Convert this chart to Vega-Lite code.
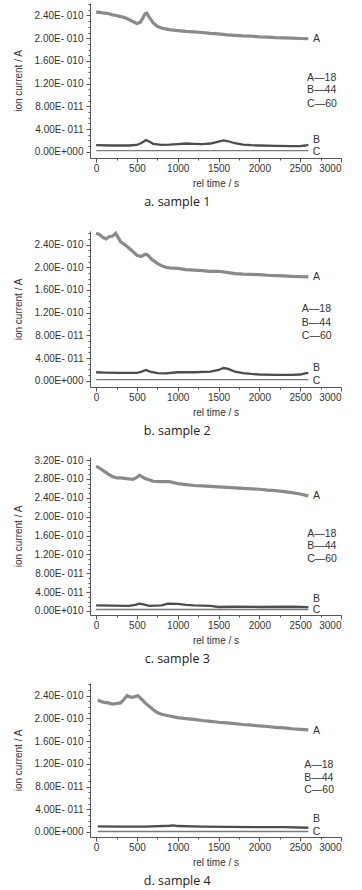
{
  "$schema": "https://vega.github.io/schema/vega-lite/v6.json",
  "padding": {"left": 13, "top": 3, "right": 5, "bottom": 2},
  "background": "white",
  "spacing": 17,
  "config": {
    "view": {"stroke": null},
    "axis": {
      "labelFont": "Liberation Sans", "labelFontSize": 10, "labelColor": "#333",
      "titleFont": "Liberation Sans", "titleFontSize": 10, "titleFontWeight": "normal", "titleColor": "#333",
      "domainColor": "#555", "tickColor": "#555", "grid": false, "labelPadding": 3
    },
    "axisY": {"minExtent": 56, "maxExtent": 56, "titlePadding": 11},
    "axisX": {"titlePadding": 5, "labelPadding": 1},
    "title": {"font": "Open Sans", "fontSize": 12.5, "fontWeight": "normal", "color": "#222", "orient": "bottom", "anchor": "middle", "frame": "bounds", "offset": 8},
    "text": {"font": "Liberation Sans", "fontSize": 10.5, "color": "#333"}
  },
  "datasets": {
    "p1": [
      {"t":0,"v":2.46e-10,"s":"A"},{"t":50,"v":2.455e-10,"s":"A"},{"t":100,"v":2.44e-10,"s":"A"},{"t":150,"v":2.435e-10,"s":"A"},{"t":200,"v":2.41e-10,"s":"A"},{"t":250,"v":2.40e-10,"s":"A"},{"t":300,"v":2.38e-10,"s":"A"},{"t":350,"v":2.365e-10,"s":"A"},{"t":400,"v":2.33e-10,"s":"A"},{"t":450,"v":2.295e-10,"s":"A"},{"t":500,"v":2.26e-10,"s":"A"},{"t":540,"v":2.28e-10,"s":"A"},{"t":570,"v":2.35e-10,"s":"A"},{"t":600,"v":2.43e-10,"s":"A"},{"t":620,"v":2.44e-10,"s":"A"},{"t":650,"v":2.37e-10,"s":"A"},{"t":700,"v":2.27e-10,"s":"A"},{"t":750,"v":2.21e-10,"s":"A"},{"t":800,"v":2.18e-10,"s":"A"},{"t":850,"v":2.165e-10,"s":"A"},{"t":900,"v":2.15e-10,"s":"A"},{"t":1000,"v":2.135e-10,"s":"A"},{"t":1100,"v":2.12e-10,"s":"A"},{"t":1200,"v":2.11e-10,"s":"A"},{"t":1300,"v":2.10e-10,"s":"A"},{"t":1400,"v":2.085e-10,"s":"A"},{"t":1500,"v":2.075e-10,"s":"A"},{"t":1600,"v":2.06e-10,"s":"A"},{"t":1700,"v":2.05e-10,"s":"A"},{"t":1800,"v":2.04e-10,"s":"A"},{"t":1900,"v":2.035e-10,"s":"A"},{"t":2000,"v":2.025e-10,"s":"A"},{"t":2100,"v":2.02e-10,"s":"A"},{"t":2200,"v":2.01e-10,"s":"A"},{"t":2300,"v":2.005e-10,"s":"A"},{"t":2400,"v":2.0e-10,"s":"A"},{"t":2500,"v":1.995e-10,"s":"A"},{"t":2600,"v":1.99e-10,"s":"A"},
      {"t":0,"v":1.15e-11,"s":"B"},{"t":200,"v":1.1e-11,"s":"B"},{"t":400,"v":1.1e-11,"s":"B"},{"t":500,"v":1.2e-11,"s":"B"},{"t":560,"v":1.6e-11,"s":"B"},{"t":610,"v":2.05e-11,"s":"B"},{"t":650,"v":1.8e-11,"s":"B"},{"t":700,"v":1.4e-11,"s":"B"},{"t":800,"v":1.2e-11,"s":"B"},{"t":900,"v":1.25e-11,"s":"B"},{"t":1000,"v":1.35e-11,"s":"B"},{"t":1100,"v":1.45e-11,"s":"B"},{"t":1200,"v":1.4e-11,"s":"B"},{"t":1300,"v":1.35e-11,"s":"B"},{"t":1400,"v":1.45e-11,"s":"B"},{"t":1500,"v":1.8e-11,"s":"B"},{"t":1560,"v":2.0e-11,"s":"B"},{"t":1620,"v":1.85e-11,"s":"B"},{"t":1700,"v":1.5e-11,"s":"B"},{"t":1800,"v":1.25e-11,"s":"B"},{"t":1900,"v":1.15e-11,"s":"B"},{"t":2000,"v":1.1e-11,"s":"B"},{"t":2200,"v":1.05e-11,"s":"B"},{"t":2400,"v":1.0e-11,"s":"B"},{"t":2500,"v":1.0e-11,"s":"B"},{"t":2560,"v":1.1e-11,"s":"B"},{"t":2600,"v":1.2e-11,"s":"B"},
      {"t":0,"v":2e-12,"s":"C"},{"t":2600,"v":2e-12,"s":"C"}
    ],
    "p2": [
      {"t":0,"v":2.60e-10,"s":"A"},{"t":40,"v":2.58e-10,"s":"A"},{"t":80,"v":2.53e-10,"s":"A"},{"t":120,"v":2.50e-10,"s":"A"},{"t":160,"v":2.54e-10,"s":"A"},{"t":200,"v":2.55e-10,"s":"A"},{"t":240,"v":2.60e-10,"s":"A"},{"t":260,"v":2.55e-10,"s":"A"},{"t":300,"v":2.45e-10,"s":"A"},{"t":350,"v":2.40e-10,"s":"A"},{"t":400,"v":2.34e-10,"s":"A"},{"t":450,"v":2.28e-10,"s":"A"},{"t":500,"v":2.21e-10,"s":"A"},{"t":550,"v":2.19e-10,"s":"A"},{"t":600,"v":2.23e-10,"s":"A"},{"t":630,"v":2.22e-10,"s":"A"},{"t":680,"v":2.14e-10,"s":"A"},{"t":750,"v":2.07e-10,"s":"A"},{"t":800,"v":2.03e-10,"s":"A"},{"t":850,"v":2.0e-10,"s":"A"},{"t":900,"v":1.99e-10,"s":"A"},{"t":1000,"v":1.98e-10,"s":"A"},{"t":1100,"v":1.96e-10,"s":"A"},{"t":1200,"v":1.95e-10,"s":"A"},{"t":1300,"v":1.94e-10,"s":"A"},{"t":1400,"v":1.93e-10,"s":"A"},{"t":1500,"v":1.93e-10,"s":"A"},{"t":1600,"v":1.91e-10,"s":"A"},{"t":1700,"v":1.89e-10,"s":"A"},{"t":1800,"v":1.88e-10,"s":"A"},{"t":1900,"v":1.875e-10,"s":"A"},{"t":2000,"v":1.87e-10,"s":"A"},{"t":2100,"v":1.86e-10,"s":"A"},{"t":2200,"v":1.855e-10,"s":"A"},{"t":2300,"v":1.85e-10,"s":"A"},{"t":2400,"v":1.84e-10,"s":"A"},{"t":2500,"v":1.835e-10,"s":"A"},{"t":2600,"v":1.83e-10,"s":"A"},
      {"t":0,"v":1.5e-11,"s":"B"},{"t":100,"v":1.45e-11,"s":"B"},{"t":300,"v":1.4e-11,"s":"B"},{"t":500,"v":1.4e-11,"s":"B"},{"t":560,"v":1.6e-11,"s":"B"},{"t":610,"v":1.9e-11,"s":"B"},{"t":660,"v":1.6e-11,"s":"B"},{"t":750,"v":1.35e-11,"s":"B"},{"t":850,"v":1.3e-11,"s":"B"},{"t":1000,"v":1.5e-11,"s":"B"},{"t":1200,"v":1.5e-11,"s":"B"},{"t":1400,"v":1.6e-11,"s":"B"},{"t":1500,"v":1.9e-11,"s":"B"},{"t":1560,"v":2.25e-11,"s":"B"},{"t":1620,"v":2.1e-11,"s":"B"},{"t":1700,"v":1.6e-11,"s":"B"},{"t":1800,"v":1.35e-11,"s":"B"},{"t":1900,"v":1.2e-11,"s":"B"},{"t":2000,"v":1.1e-11,"s":"B"},{"t":2200,"v":1.05e-11,"s":"B"},{"t":2400,"v":1.05e-11,"s":"B"},{"t":2500,"v":1.1e-11,"s":"B"},{"t":2560,"v":1.3e-11,"s":"B"},{"t":2600,"v":1.4e-11,"s":"B"},
      {"t":0,"v":2e-12,"s":"C"},{"t":2600,"v":2e-12,"s":"C"}
    ],
    "p3": [
      {"t":0,"v":3.07e-10,"s":"A"},{"t":50,"v":3.02e-10,"s":"A"},{"t":100,"v":2.96e-10,"s":"A"},{"t":150,"v":2.90e-10,"s":"A"},{"t":200,"v":2.85e-10,"s":"A"},{"t":250,"v":2.82e-10,"s":"A"},{"t":300,"v":2.82e-10,"s":"A"},{"t":400,"v":2.80e-10,"s":"A"},{"t":450,"v":2.79e-10,"s":"A"},{"t":500,"v":2.83e-10,"s":"A"},{"t":530,"v":2.88e-10,"s":"A"},{"t":560,"v":2.85e-10,"s":"A"},{"t":600,"v":2.81e-10,"s":"A"},{"t":700,"v":2.75e-10,"s":"A"},{"t":800,"v":2.74e-10,"s":"A"},{"t":900,"v":2.74e-10,"s":"A"},{"t":1000,"v":2.70e-10,"s":"A"},{"t":1100,"v":2.68e-10,"s":"A"},{"t":1200,"v":2.66e-10,"s":"A"},{"t":1300,"v":2.65e-10,"s":"A"},{"t":1400,"v":2.64e-10,"s":"A"},{"t":1500,"v":2.63e-10,"s":"A"},{"t":1600,"v":2.62e-10,"s":"A"},{"t":1700,"v":2.61e-10,"s":"A"},{"t":1800,"v":2.60e-10,"s":"A"},{"t":1900,"v":2.59e-10,"s":"A"},{"t":2000,"v":2.58e-10,"s":"A"},{"t":2100,"v":2.56e-10,"s":"A"},{"t":2200,"v":2.55e-10,"s":"A"},{"t":2300,"v":2.53e-10,"s":"A"},{"t":2400,"v":2.51e-10,"s":"A"},{"t":2500,"v":2.48e-10,"s":"A"},{"t":2600,"v":2.44e-10,"s":"A"},
      {"t":0,"v":1.2e-11,"s":"B"},{"t":200,"v":1.15e-11,"s":"B"},{"t":400,"v":1.1e-11,"s":"B"},{"t":480,"v":1.3e-11,"s":"B"},{"t":530,"v":1.55e-11,"s":"B"},{"t":580,"v":1.4e-11,"s":"B"},{"t":650,"v":1.1e-11,"s":"B"},{"t":800,"v":1.2e-11,"s":"B"},{"t":880,"v":1.55e-11,"s":"B"},{"t":1000,"v":1.5e-11,"s":"B"},{"t":1100,"v":1.3e-11,"s":"B"},{"t":1200,"v":1.2e-11,"s":"B"},{"t":1400,"v":1.1e-11,"s":"B"},{"t":1500,"v":0.85e-11,"s":"B"},{"t":1700,"v":0.9e-11,"s":"B"},{"t":2000,"v":0.85e-11,"s":"B"},{"t":2400,"v":0.9e-11,"s":"B"},{"t":2600,"v":0.8e-11,"s":"B"},
      {"t":0,"v":3e-12,"s":"C"},{"t":2600,"v":3e-12,"s":"C"}
    ],
    "p4": [
      {"t":20,"v":2.32e-10,"s":"A"},{"t":50,"v":2.30e-10,"s":"A"},{"t":100,"v":2.28e-10,"s":"A"},{"t":150,"v":2.27e-10,"s":"A"},{"t":200,"v":2.25e-10,"s":"A"},{"t":250,"v":2.26e-10,"s":"A"},{"t":300,"v":2.27e-10,"s":"A"},{"t":340,"v":2.33e-10,"s":"A"},{"t":380,"v":2.40e-10,"s":"A"},{"t":420,"v":2.37e-10,"s":"A"},{"t":460,"v":2.37e-10,"s":"A"},{"t":510,"v":2.40e-10,"s":"A"},{"t":560,"v":2.33e-10,"s":"A"},{"t":600,"v":2.27e-10,"s":"A"},{"t":650,"v":2.21e-10,"s":"A"},{"t":700,"v":2.15e-10,"s":"A"},{"t":750,"v":2.10e-10,"s":"A"},{"t":800,"v":2.07e-10,"s":"A"},{"t":900,"v":2.04e-10,"s":"A"},{"t":1000,"v":2.01e-10,"s":"A"},{"t":1100,"v":1.995e-10,"s":"A"},{"t":1200,"v":1.98e-10,"s":"A"},{"t":1300,"v":1.96e-10,"s":"A"},{"t":1400,"v":1.945e-10,"s":"A"},{"t":1500,"v":1.93e-10,"s":"A"},{"t":1600,"v":1.92e-10,"s":"A"},{"t":1700,"v":1.905e-10,"s":"A"},{"t":1800,"v":1.89e-10,"s":"A"},{"t":1900,"v":1.88e-10,"s":"A"},{"t":2000,"v":1.865e-10,"s":"A"},{"t":2100,"v":1.855e-10,"s":"A"},{"t":2200,"v":1.84e-10,"s":"A"},{"t":2300,"v":1.83e-10,"s":"A"},{"t":2400,"v":1.815e-10,"s":"A"},{"t":2500,"v":1.805e-10,"s":"A"},{"t":2600,"v":1.795e-10,"s":"A"},
      {"t":20,"v":1.0e-11,"s":"B"},{"t":300,"v":0.95e-11,"s":"B"},{"t":600,"v":0.95e-11,"s":"B"},{"t":900,"v":1.1e-11,"s":"B"},{"t":950,"v":1.15e-11,"s":"B"},{"t":1000,"v":1.05e-11,"s":"B"},{"t":1300,"v":0.95e-11,"s":"B"},{"t":1600,"v":0.9e-11,"s":"B"},{"t":2000,"v":0.85e-11,"s":"B"},{"t":2300,"v":0.85e-11,"s":"B"},{"t":2600,"v":0.75e-11,"s":"B"},
      {"t":20,"v":1e-12,"s":"C"},{"t":2600,"v":1e-12,"s":"C"}
    ],
    "labels": [
      {"p":1,"kind":"series","t":2700,"v":1.99e-10,"text":"A"},
      {"p":1,"kind":"series","t":2700,"v":2.15e-11,"text":"B"},
      {"p":1,"kind":"series","t":2700,"v":0,"text":"C"},
      {"p":1,"kind":"legend","t":2584,"v":1.3e-10,"text":"A—18"},
      {"p":1,"kind":"legend","t":2584,"v":1.08e-10,"text":"B—44"},
      {"p":1,"kind":"legend","t":2584,"v":8.4e-11,"text":"C—60"},
      {"p":2,"kind":"series","t":2700,"v":1.83e-10,"text":"A"},
      {"p":2,"kind":"series","t":2700,"v":2.2e-11,"text":"B"},
      {"p":2,"kind":"series","t":2700,"v":0,"text":"C"},
      {"p":2,"kind":"legend","t":2520,"v":1.26e-10,"text":"A—18"},
      {"p":2,"kind":"legend","t":2520,"v":1.02e-10,"text":"B—44"},
      {"p":2,"kind":"legend","t":2520,"v":7.9e-11,"text":"C—60"},
      {"p":3,"kind":"series","t":2700,"v":2.44e-10,"text":"A"},
      {"p":3,"kind":"series","t":2700,"v":2.5e-11,"text":"B"},
      {"p":3,"kind":"series","t":2700,"v":2e-12,"text":"C"},
      {"p":3,"kind":"legend","t":2585,"v":1.63e-10,"text":"A—18"},
      {"p":3,"kind":"legend","t":2585,"v":1.37e-10,"text":"B—44"},
      {"p":3,"kind":"legend","t":2585,"v":1.1e-10,"text":"C—60"},
      {"p":4,"kind":"series","t":2700,"v":1.77e-10,"text":"A"},
      {"p":4,"kind":"series","t":2700,"v":2.3e-11,"text":"B"},
      {"p":4,"kind":"series","t":2700,"v":0,"text":"C"},
      {"p":4,"kind":"legend","t":2550,"v":1.18e-10,"text":"A—18"},
      {"p":4,"kind":"legend","t":2550,"v":9.5e-11,"text":"B—44"},
      {"p":4,"kind":"legend","t":2550,"v":7.3e-11,"text":"C—60"}
    ]
  },
  "vconcat": [
    {
      "width": 251, "height": 155,
      "title": {"text": "a. sample 1"},
      "encoding": {
        "x": {"field": "t", "type": "quantitative", "title": "rel time / s", "scale": {"domain": [-75, 3000], "nice": false, "zero": false},
              "axis": {"values": [0,250,500,750,1000,1250,1500,1750,2000,2250,2500,2750,3000], "labelExpr": "datum.value % 500 == 0 ? '' + datum.value : ''", "tickSize": {"condition": {"test": "datum.value % 500 == 0", "value": 4}, "value": 2}}},
        "y": {"field": "v", "type": "quantitative", "title": "ion current / A", "scale": {"domain": [-1.1e-11, 2.62e-10], "nice": false, "zero": false},
              "axis": {"values": [0,1e-11,2e-11,3e-11,4e-11,5e-11,6e-11,7e-11,8e-11,9e-11,10e-11,11e-11,12e-11,13e-11,14e-11,15e-11,16e-11,17e-11,18e-11,19e-11,20e-11,21e-11,22e-11,23e-11,24e-11,25e-11,26e-11],
                       "labelExpr": "round(datum.value*1e11) % 4 != 0 ? '' : round(datum.value*1e11) == 0 ? '0.00E+000' : round(datum.value*1e11) < 10 ? round(datum.value*1e11) + '.00E- 011' : format(round(datum.value*1e11)/10, '.2f') + 'E- 010'",
                       "tickSize": {"condition": {"test": "round(datum.value*1e11) % 4 == 0", "value": 4}, "value": 2}}}
      },
      "layer": [
        {"data": {"name": "p1"}, "mark": {"type": "line"},
         "encoding": {"detail": {"field": "s"},
           "color": {"field": "s", "type": "nominal", "scale": {"domain": ["A","B","C"], "range": ["#8a8a8a","#4d4d4d","#7a7a7a"]}, "legend": null},
           "strokeWidth": {"field": "s", "type": "nominal", "scale": {"domain": ["A","B","C"], "range": [3.2,1.4,1]}, "legend": null}}},
        {"data": {"name": "labels"}, "transform": [{"filter": "datum.p == 1 && datum.kind == 'series'"}], "mark": {"type": "text", "align": "center", "baseline": "middle"}, "encoding": {"text": {"field": "text"}}},
        {"data": {"name": "labels"}, "transform": [{"filter": "datum.p == 1 && datum.kind == 'legend'"}], "mark": {"type": "text", "align": "left", "baseline": "middle"}, "encoding": {"text": {"field": "text"}}}
      ]
    },
    {
      "width": 251, "height": 156,
      "title": {"text": "b. sample 2"},
      "encoding": {
        "x": {"field": "t", "type": "quantitative", "title": "rel time / s", "scale": {"domain": [-75, 3000], "nice": false, "zero": false},
              "axis": {"values": [0,250,500,750,1000,1250,1500,1750,2000,2250,2500,2750,3000], "labelExpr": "datum.value % 500 == 0 ? '' + datum.value : ''", "tickSize": {"condition": {"test": "datum.value % 500 == 0", "value": 4}, "value": 2}}},
        "y": {"field": "v", "type": "quantitative", "title": "ion current / A", "scale": {"domain": [-1.1e-11, 2.64e-10], "nice": false, "zero": false},
              "axis": {"values": [0,1e-11,2e-11,3e-11,4e-11,5e-11,6e-11,7e-11,8e-11,9e-11,10e-11,11e-11,12e-11,13e-11,14e-11,15e-11,16e-11,17e-11,18e-11,19e-11,20e-11,21e-11,22e-11,23e-11,24e-11,25e-11,26e-11],
                       "labelExpr": "round(datum.value*1e11) % 4 != 0 ? '' : round(datum.value*1e11) == 0 ? '0.00E+000' : round(datum.value*1e11) < 10 ? round(datum.value*1e11) + '.00E- 011' : format(round(datum.value*1e11)/10, '.2f') + 'E- 010'",
                       "tickSize": {"condition": {"test": "round(datum.value*1e11) % 4 == 0", "value": 4}, "value": 2}}}
      },
      "layer": [
        {"data": {"name": "p2"}, "mark": {"type": "line"},
         "encoding": {"detail": {"field": "s"},
           "color": {"field": "s", "type": "nominal", "scale": {"domain": ["A","B","C"], "range": ["#8a8a8a","#4d4d4d","#7a7a7a"]}, "legend": null},
           "strokeWidth": {"field": "s", "type": "nominal", "scale": {"domain": ["A","B","C"], "range": [3.2,1.4,1]}, "legend": null}}},
        {"data": {"name": "labels"}, "transform": [{"filter": "datum.p == 2 && datum.kind == 'series'"}], "mark": {"type": "text", "align": "center", "baseline": "middle"}, "encoding": {"text": {"field": "text"}}},
        {"data": {"name": "labels"}, "transform": [{"filter": "datum.p == 2 && datum.kind == 'legend'"}], "mark": {"type": "text", "align": "left", "baseline": "middle"}, "encoding": {"text": {"field": "text"}}}
      ]
    },
    {
      "width": 251, "height": 158,
      "title": {"text": "c. sample 3"},
      "encoding": {
        "x": {"field": "t", "type": "quantitative", "title": "rel time / s", "scale": {"domain": [-75, 3000], "nice": false, "zero": false},
              "axis": {"values": [0,250,500,750,1000,1250,1500,1750,2000,2250,2500,2750,3000], "labelExpr": "datum.value % 500 == 0 ? '' + datum.value : ''", "tickSize": {"condition": {"test": "datum.value % 500 == 0", "value": 4}, "value": 2}}},
        "y": {"field": "v", "type": "quantitative", "title": "ion current / A", "scale": {"domain": [-8.5e-12, 3.264e-10], "nice": false, "zero": false},
              "axis": {"values": [0,1e-11,2e-11,3e-11,4e-11,5e-11,6e-11,7e-11,8e-11,9e-11,10e-11,11e-11,12e-11,13e-11,14e-11,15e-11,16e-11,17e-11,18e-11,19e-11,20e-11,21e-11,22e-11,23e-11,24e-11,25e-11,26e-11,27e-11,28e-11,29e-11,30e-11,31e-11,32e-11],
                       "labelExpr": "round(datum.value*1e11) % 4 != 0 ? '' : round(datum.value*1e11) == 0 ? '0.00E+010' : round(datum.value*1e11) < 10 ? round(datum.value*1e11) + '.00E- 011' : format(round(datum.value*1e11)/10, '.2f') + 'E- 010'",
                       "tickSize": {"condition": {"test": "round(datum.value*1e11) % 4 == 0", "value": 4}, "value": 2}}}
      },
      "layer": [
        {"data": {"name": "p3"}, "mark": {"type": "line"},
         "encoding": {"detail": {"field": "s"},
           "color": {"field": "s", "type": "nominal", "scale": {"domain": ["A","B","C"], "range": ["#8a8a8a","#4d4d4d","#7a7a7a"]}, "legend": null},
           "strokeWidth": {"field": "s", "type": "nominal", "scale": {"domain": ["A","B","C"], "range": [3.2,1.4,1]}, "legend": null}}},
        {"data": {"name": "labels"}, "transform": [{"filter": "datum.p == 3 && datum.kind == 'series'"}], "mark": {"type": "text", "align": "center", "baseline": "middle"}, "encoding": {"text": {"field": "text"}}},
        {"data": {"name": "labels"}, "transform": [{"filter": "datum.p == 3 && datum.kind == 'legend'"}], "mark": {"type": "text", "align": "left", "baseline": "middle"}, "encoding": {"text": {"field": "text"}}}
      ]
    },
    {
      "width": 251, "height": 154,
      "title": {"text": "d. sample 4"},
      "encoding": {
        "x": {"field": "t", "type": "quantitative", "title": "rel time / s", "scale": {"domain": [-75, 3000], "nice": false, "zero": false},
              "axis": {"values": [0,250,500,750,1000,1250,1500,1750,2000,2250,2500,2750,3000], "labelExpr": "datum.value % 500 == 0 ? '' + datum.value : ''", "tickSize": {"condition": {"test": "datum.value % 500 == 0", "value": 4}, "value": 2}}},
        "y": {"field": "v", "type": "quantitative", "title": "ion current / A", "scale": {"domain": [-8.8e-12, 2.62e-10], "nice": false, "zero": false},
              "axis": {"values": [0,1e-11,2e-11,3e-11,4e-11,5e-11,6e-11,7e-11,8e-11,9e-11,10e-11,11e-11,12e-11,13e-11,14e-11,15e-11,16e-11,17e-11,18e-11,19e-11,20e-11,21e-11,22e-11,23e-11,24e-11,25e-11,26e-11],
                       "labelExpr": "round(datum.value*1e11) % 4 != 0 ? '' : round(datum.value*1e11) == 0 ? '0.00E+000' : round(datum.value*1e11) < 10 ? round(datum.value*1e11) + '.00E- 011' : format(round(datum.value*1e11)/10, '.2f') + 'E- 010'",
                       "tickSize": {"condition": {"test": "round(datum.value*1e11) % 4 == 0", "value": 4}, "value": 2}}}
      },
      "layer": [
        {"data": {"name": "p4"}, "mark": {"type": "line"},
         "encoding": {"detail": {"field": "s"},
           "color": {"field": "s", "type": "nominal", "scale": {"domain": ["A","B","C"], "range": ["#8a8a8a","#4d4d4d","#7a7a7a"]}, "legend": null},
           "strokeWidth": {"field": "s", "type": "nominal", "scale": {"domain": ["A","B","C"], "range": [3.2,1.4,1]}, "legend": null}}},
        {"data": {"name": "labels"}, "transform": [{"filter": "datum.p == 4 && datum.kind == 'series'"}], "mark": {"type": "text", "align": "center", "baseline": "middle"}, "encoding": {"text": {"field": "text"}}},
        {"data": {"name": "labels"}, "transform": [{"filter": "datum.p == 4 && datum.kind == 'legend'"}], "mark": {"type": "text", "align": "left", "baseline": "middle"}, "encoding": {"text": {"field": "text"}}}
      ]
    }
  ]
}
